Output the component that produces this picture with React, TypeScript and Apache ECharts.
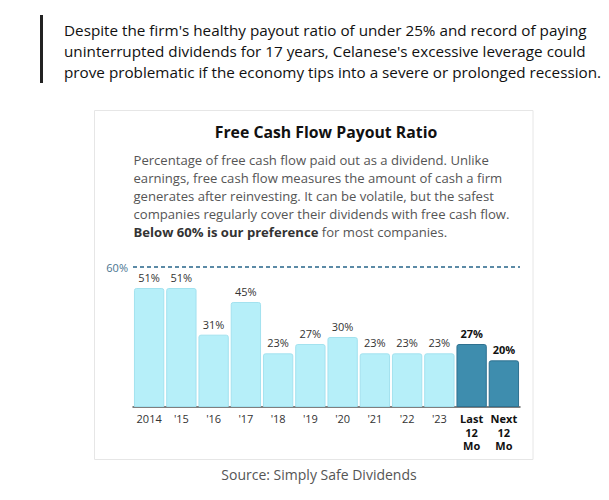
import React, { useEffect, useRef } from "react";
import * as echarts from "echarts";

const categories = ["2014", "'15", "'16", "'17", "'18", "'19", "'20", "'21", "'22", "'23", "Last\n12\nMo", "Next\n12\nMo"];
const payoutValues = [51, 51, 31, 45, 23, 27, 30, 23, 23, 23, 27, 20];
const highlighted = [false, false, false, false, false, false, false, false, false, false, true, true];
const targetLine = 60;

const introLines = [
  "Despite the firm's healthy payout ratio of under 25% and record of paying",
  "uninterrupted dividends for 17 years, Celanese's excessive leverage could",
  "prove problematic if the economy tips into a severe or prolonged recession.",
];
const descLines = [
  "Percentage of free cash flow paid out as a dividend. Unlike",
  "earnings, free cash flow measures the amount of cash a firm",
  "generates after reinvesting. It can be volatile, but the safest",
  "companies regularly cover their dividends with free cash flow.",
  "{b|Below 60% is our preference} for most companies.",
];

const FONT = "'Open Sans', 'Noto Sans', sans-serif";

export default function App() {
  const ref = useRef<HTMLDivElement>(null);
  useEffect(() => {
    const chart = echarts.init(ref.current!, null, { renderer: "svg" });
    const graphics: any[] = [
      { type: "rect", shape: { x: 40, y: 15, width: 3, height: 68 }, style: { fill: "#222" } },
      {
        type: "rect",
        shape: { x: 94.5, y: 110.5, width: 438.5, height: 349 },
        style: { fill: "#fff", stroke: "#e6e6e6", lineWidth: 1 },
        z: -10,
      },
      {
        type: "text",
        x: 326,
        y: 132,
        style: {
          text: "Free Cash Flow Payout Ratio",
          font: `bold 15.8px ${FONT}`,
          fill: "#111",
          align: "center",
          verticalAlign: "middle",
        },
      },
      {
        type: "text",
        x: 319,
        y: 474,
        style: {
          text: "Source: Simply Safe Dividends",
          font: `14px ${FONT}`,
          fill: "#555",
          align: "center",
          verticalAlign: "middle",
        },
      },
    ];
    introLines.forEach((t, i) => {
      graphics.push({
        type: "text",
        x: 64,
        y: 30 + i * 21,
        style: { text: t, font: `15.25px ${FONT}`, fill: "#111", verticalAlign: "middle" },
      });
    });
    descLines.forEach((t, i) => {
      graphics.push({
        type: "text",
        x: 133.5,
        y: 159.5 + i * 18,
        style: {
          text: t,
          font: `13.1px ${FONT}`,
          fill: "#555",
          verticalAlign: "middle",
          rich: { b: { fontWeight: "bold", fontSize: 13.1, fontFamily: FONT, fill: "#333" } },
        },
      });
    });

    chart.setOption({
      animation: false,
      graphic: graphics,
      grid: { left: 133, right: 89, top: 267, bottom: 93 },
      xAxis: {
        type: "category",
        data: categories,
        axisLine: { lineStyle: { color: "#555", width: 1.5 } },
        axisTick: { alignWithLabel: true, length: 4, lineStyle: { color: "#555" } },
        axisLabel: {
          interval: 0,
          margin: 5,
          fontSize: 11,
          lineHeight: 13.5,
          fontFamily: FONT,
          color: "#333",
          formatter: (v: string, i: number) => (highlighted[i] ? `{b|${v}}` : v),
          rich: { b: { fontWeight: "bold", fontSize: 11, lineHeight: 13.5, fontFamily: FONT, color: "#111" } },
        },
      },
      yAxis: { type: "value", min: 0, max: 60, show: false },
      series: [
        {
          type: "bar",
          barCategoryGap: "6%",
          data: payoutValues.map((v, i) => ({
            value: v,
            itemStyle: highlighted[i]
              ? { color: "#3e8dae", borderColor: "#2f7190", borderWidth: 1, borderRadius: [2, 2, 0, 0] }
              : { color: "#b6eff9", borderColor: "#a3e2ef", borderWidth: 1, borderRadius: [2, 2, 0, 0] },
            label: highlighted[i]
              ? { fontWeight: "bold", color: "#111" }
              : { color: "#333" },
          })),
          label: {
            show: true,
            position: "top",
            distance: 5,
            fontSize: 11,
            fontFamily: FONT,
            formatter: "{c}%",
          },
          markLine: {
            silent: true,
            symbol: "none",
            data: [{ yAxis: targetLine }],
            lineStyle: { type: [4, 3], color: "#5b8aa6", width: 2 },
            label: {
              position: "start",
              formatter: "60%",
              color: "#4a7590",
              fontSize: 11,
              fontFamily: FONT,
              distance: 5,
            },
          },
        },
      ],
    });
    return () => chart.dispose();
  }, []);
  return <div ref={ref} style={{ position: "absolute", left: 0, top: 0, width: 609, height: 500 }} />;
}
